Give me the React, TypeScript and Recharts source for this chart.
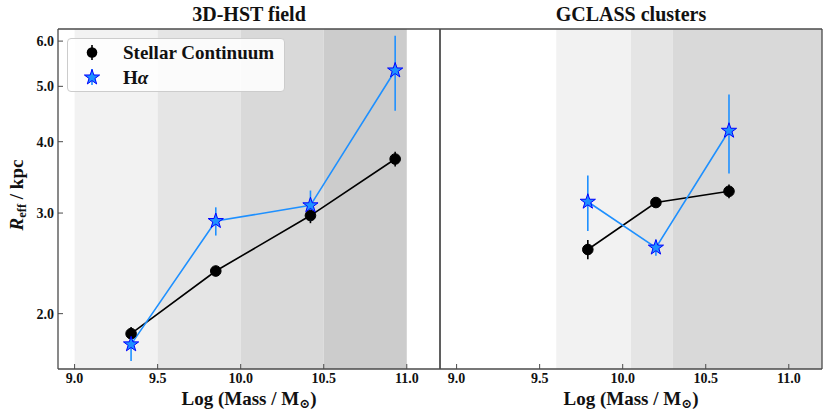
import React from "react";
import {
  ComposedChart,
  Line,
  XAxis,
  YAxis,
  ErrorBar,
  ReferenceArea,
  Legend,
  Label,
} from "recharts";

// ---------- data ----------
const xTicks = [9.0, 9.5, 10.0, 10.5, 11.0];
const yTicks = [2.0, 3.0, 4.0, 5.0, 6.0];
const xDomain = [8.9, 11.2];
const yDomain = [1.6, 6.3];

const fieldMass = [9.34, 9.85, 10.42, 10.93];
const fieldCont = [1.845, 2.375, 2.97, 3.73];
const fieldContErr = [0.05, 0.05, 0.09, 0.11];
const fieldHa = [1.767, 2.905, 3.095, 5.33];
const fieldHaErr = [0.115, 0.165, 0.19, 0.8];
const fieldBands = [
  [9.0, 9.5],
  [9.5, 10.0],
  [10.0, 10.5],
  [10.5, 11.0],
];

const clusterMass = [9.79, 10.2, 10.64];
const clusterCont = [2.59, 3.13, 3.275];
const clusterContErr = [0.1, 0.06, 0.09];
const clusterHa = [3.14, 2.61, 4.18];
const clusterHaErr = [0.35, 0.085, 0.66];
const clusterBands = [
  [9.6, 10.05],
  [10.05, 10.3],
  [10.3, 11.2],
];

const bandColors = ["#f2f2f2", "#e5e5e5", "#d9d9d9", "#cccccc"];

const FONT = "'Liberation Serif', 'DejaVu Serif', serif";
const SPINE = "#4a4a4a";
const BLUE = "#1e90ff";

const zip = (xs: number[], ys: number[], es: number[]) =>
  xs.map((x, i) => ({ x, y: ys[i], err: es[i] }));

function starPath(cx: number, cy: number, R: number) {
  const r = R * 0.39;
  let d = "";
  for (let i = 0; i < 10; i++) {
    const a = ((-90 + i * 36) * Math.PI) / 180;
    const rad = i % 2 === 0 ? R : r;
    d += (i === 0 ? "M" : "L") + (cx + rad * Math.cos(a)).toFixed(2) + "," + (cy + rad * Math.sin(a)).toFixed(2);
  }
  return d + "Z";
}

const StarDot = (props: any) => {
  const { cx, cy, index } = props;
  if (cx == null || cy == null) return <g key={index} />;
  return <path key={index} d={starPath(cx, cy, 8)} fill={BLUE} stroke="#0000ff" strokeWidth={1} />;
};

const CircleDot = (props: any) => {
  const { cx, cy, index } = props;
  if (cx == null || cy == null) return <g key={index} />;
  return <circle key={index} cx={cx} cy={cy} r={5.3} fill="#000" stroke="#000" />;
};

const LegendBox = () => (
  <div
    style={{
      width: 218,
      height: 54,
      boxSizing: "border-box",
      border: "1px solid #cccccc",
      borderRadius: 4,
      background: "rgba(255,255,255,0.85)",
    }}
  >
    <svg width={216} height={52} style={{ display: "block" }}>
      <line x1={24} x2={24} y1={6} y2={21} stroke="#000" strokeWidth={1.6} />
      <circle cx={24} cy={13.5} r={5.3} fill="#000" />
      <text x={55} y={19.5} fontFamily={FONT} fontWeight="bold" fontSize={19} fill="#111">
        Stellar Continuum
      </text>
      <line x1={24} x2={24} y1={30} y2={46} stroke={BLUE} strokeWidth={1.6} />
      <path d={starPath(24, 38.5, 8)} fill={BLUE} stroke="#0000ff" strokeWidth={1} />
      <text x={55} y={44.5} fontFamily={FONT} fontWeight="bold" fontSize={19} fill="#111">
        H<tspan fontStyle="italic">α</tspan>
      </text>
    </svg>
  </div>
);

const tickStyle = { fontFamily: FONT, fontWeight: "bold", fontSize: 14, fill: "#111" };

type PanelProps = {
  left: number;
  right: number;
  title: string;
  mass: number[];
  cont: number[];
  contErr: number[];
  ha: number[];
  haErr: number[];
  bands: number[][];
  showYLabels: boolean;
  showLegend: boolean;
};

function Panel(p: PanelProps) {
  const contData = zip(p.mass, p.cont, p.contErr);
  const haData = zip(p.mass, p.ha, p.haErr);
  return (
    <div style={{ position: "absolute", left: 0, top: 0 }}>
      <ComposedChart
        width={830}
        height={415}
        margin={{ top: 28, right: p.right - 1, bottom: 45, left: p.left - 1 }}
      >
        <XAxis
          xAxisId="b"
          dataKey="x"
          type="number"
          domain={xDomain}
          ticks={xTicks}
          allowDataOverflow
          height={1}
          orientation="bottom"
          tickSize={-5}
          tickMargin={9}
          axisLine={{ stroke: SPINE, strokeWidth: 1.3 }}
          tickLine={{ stroke: SPINE, strokeWidth: 1 }}
          tick={tickStyle}
          tickFormatter={(v: number) => v.toFixed(1)}
        >
          <Label
            content={(lp: any) => {
              const vb = lp.viewBox;
              return (
                <text
                  x={vb.x + vb.width / 2}
                  y={vb.y + 36}
                  textAnchor="middle"
                  fontFamily={FONT}
                  fontWeight="bold"
                  fontSize={19}
                  fill="#111"
                >
                  Log (Mass / M
                  <tspan fontSize={13} dy={3}>⊙</tspan>
                  <tspan dy={-3}>)</tspan>
                </text>
              );
            }}
          />
        </XAxis>
        <XAxis
          xAxisId="t"
          dataKey="x"
          type="number"
          domain={xDomain}
          ticks={xTicks}
          allowDataOverflow
          height={1}
          orientation="top"
          tickSize={-5}
          tick={false}
          axisLine={{ stroke: SPINE, strokeWidth: 1.3 }}
          tickLine={{ stroke: SPINE, strokeWidth: 1 }}
        >
          <Label
            content={(lp: any) => {
              const vb = lp.viewBox;
              return (
                <text
                  x={vb.x + vb.width / 2}
                  y={vb.y - 7}
                  textAnchor="middle"
                  fontFamily={FONT}
                  fontWeight="bold"
                  fontSize={20}
                  fill="#111"
                >
                  {p.title}
                </text>
              );
            }}
          />
        </XAxis>
        <YAxis
          yAxisId="l"
          type="number"
          scale="log"
          domain={yDomain}
          ticks={yTicks}
          allowDataOverflow
          width={1}
          orientation="left"
          tickSize={-5}
          tickMargin={9}
          axisLine={{ stroke: SPINE, strokeWidth: 1.3 }}
          tickLine={{ stroke: SPINE, strokeWidth: 1 }}
          tick={p.showYLabels ? tickStyle : false}
          tickFormatter={(v: number) => v.toFixed(1)}
        >
          {p.showYLabels && (
            <Label
              content={(lp: any) => {
                const vb = lp.viewBox;
                const cx = vb.x + vb.width - 35;
                const cy = vb.y + vb.height / 2 - 4;
                return (
                  <text
                    x={cx}
                    y={cy}
                    transform={`rotate(-90, ${cx}, ${cy})`}
                    textAnchor="middle"
                    fontFamily={FONT}
                    fontWeight="bold"
                    fontSize={19}
                    fill="#111"
                  >
                    <tspan fontStyle="italic">R</tspan>
                    <tspan fontSize={12.5} dy={3}>eff</tspan>
                    <tspan dy={-3}>{"  /  kpc"}</tspan>
                  </text>
                );
              }}
            />
          )}
        </YAxis>
        <YAxis
          yAxisId="r"
          type="number"
          scale="log"
          domain={yDomain}
          ticks={yTicks}
          allowDataOverflow
          width={1}
          orientation="right"
          tickSize={-5}
          tick={false}
          axisLine={{ stroke: SPINE, strokeWidth: 1.3 }}
          tickLine={{ stroke: SPINE, strokeWidth: 1 }}
        />
        {p.bands.map((b, i) => (
          <ReferenceArea
            key={i}
            xAxisId="b"
            yAxisId="l"
            x1={b[0]}
            x2={b[1]}
            fill={bandColors[i]}
            fillOpacity={1}
            stroke="none"
          />
        ))}
        <Line
          xAxisId="b"
          yAxisId="l"
          data={contData}
          dataKey="y"
          name="Stellar Continuum"
          stroke="#000"
          strokeWidth={1.6}
          dot={CircleDot}
          activeDot={false}
          isAnimationActive={false}
        >
          <ErrorBar dataKey="err" direction="y" width={0} stroke="#000" strokeWidth={1.6} isAnimationActive={false} />
        </Line>
        <Line
          xAxisId="b"
          yAxisId="l"
          data={haData}
          dataKey="y"
          name="Hα"
          stroke={BLUE}
          strokeWidth={1.6}
          dot={StarDot}
          activeDot={false}
          isAnimationActive={false}
        >
          <ErrorBar dataKey="err" direction="y" width={0} stroke={BLUE} strokeWidth={1.6} isAnimationActive={false} />
        </Line>
        {p.showLegend && (
          <Legend
            layout="vertical"
            align="center"
            verticalAlign="middle"
            wrapperStyle={{ position: "absolute", left: 67, top: 38, width: 218, height: 54 }}
            content={() => <LegendBox />}
          />
        )}
      </ComposedChart>
    </div>
  );
}

export default function App() {
  return (
    <div style={{ position: "absolute", left: 0, top: 0, width: 830, height: 415, background: "#fff" }}>
      <Panel
        left={58}
        right={390}
        title="3D-HST field"
        mass={fieldMass}
        cont={fieldCont}
        contErr={fieldContErr}
        ha={fieldHa}
        haErr={fieldHaErr}
        bands={fieldBands}
        showYLabels
        showLegend
      />
      <Panel
        left={440}
        right={8}
        title="GCLASS clusters"
        mass={clusterMass}
        cont={clusterCont}
        contErr={clusterContErr}
        ha={clusterHa}
        haErr={clusterHaErr}
        bands={clusterBands}
        showYLabels={false}
        showLegend={false}
      />
    </div>
  );
}
